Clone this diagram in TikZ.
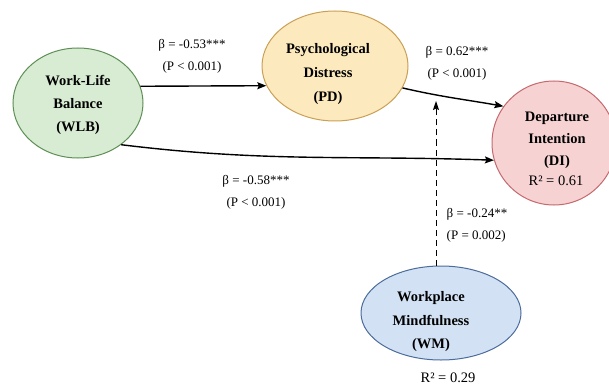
\documentclass[tikz,border=0pt]{standalone}
\usepackage{fontspec}
\setmainfont{Liberation Serif}
\usetikzlibrary{shapes.geometric,arrows.meta}
\definecolor{wlbfill}{HTML}{D8EBD3}
\definecolor{wlbdraw}{HTML}{5E8F55}
\definecolor{pdfill}{HTML}{FCE9BE}
\definecolor{pddraw}{HTML}{C9A055}
\definecolor{difill}{HTML}{F7D2D3}
\definecolor{didraw}{HTML}{C46A6E}
\definecolor{wmfill}{HTML}{D2E2F4}
\definecolor{wmdraw}{HTML}{4C6C9C}
\tikzset{
  latent/.style={ellipse, draw, line width=1pt, inner sep=0pt},
  nodetext/.style={align=center, inner sep=0pt, font=\fontsize{14.5}{23}\selectfont\bfseries},
  rtext/.style={inner sep=0pt, font=\fontsize{14.5}{17}\selectfont},
  coef/.style={align=center, inner sep=0pt, font=\fontsize{13}{22}\selectfont},
  conn/.style={line width=1.4pt, -{Stealth[length=9pt,width=7pt,inset=1.5pt]}},
  modconn/.style={line width=1pt, dash pattern=on 6pt off 4pt, -{Stealth[length=9pt,width=6pt,inset=1.5pt]}}
}
\begin{document}
\begin{tikzpicture}[x=1pt,y=-1pt]
\useasboundingbox (0,0) rectangle (609,390);
\begin{scope}
\clip (0,0) rectangle (609,390);
\node[latent, fill=wlbfill, draw=wlbdraw, minimum width=130pt, minimum height=110pt] (wlb) at (78,103) {};
\node[latent, fill=pdfill, draw=pddraw, minimum width=146pt, minimum height=110pt] (pd) at (335,66) {};
\node[latent, fill=difill, draw=didraw, minimum width=124pt, minimum height=124pt] (di) at (554,143) {};
\node[latent, fill=wmfill, draw=wmdraw, minimum width=160pt, minimum height=94pt] (wm) at (441,313) {};
\end{scope}

\node[nodetext] (wlbt) at (78,105) {Work-Life\\Balance\\(WLB)};
\node[nodetext, font=\fontsize{14.5}{24}\selectfont\bfseries] (pdt) at (328,74) {Psychological\\Distress\\(PD)};
\node[nodetext, font=\fontsize{14.5}{22}\selectfont\bfseries] (dit) at (557,140) {Departure\\Intention\\(DI)};
\node[rtext] (dir) at (556,181) {R² = 0.61};
\node[nodetext, font=\fontsize{14.5}{23.5}\selectfont\bfseries] (wmt) at (431,322) {Workplace\\Mindfulness\\(WM)};
\node[rtext] (wmr) at (448,378) {R² = 0.29};

\draw[conn] (wlb.15.4) -- (pd.196.4);
\draw[conn] (pd.-18) to[out=-13, in=170] (di.144);
\draw[conn] (wlb.-44) to[out=-7, in=178] (di.196);
\coordinate (dtip) at (436,101);
\draw[modconn] (wm.north -| dtip) -- (dtip);

\node[coef] (c1) at (192,56.5) {β = -0.53***\\(P < 0.001)};
\node[coef] (c2) at (457,63.5) {β = 0.62***\\(P < 0.001)};
\node[coef] (c3) at (256,192.5) {β = -0.58***\\(P < 0.001)};
\node[coef, align=left] (c4) at (477,225) {β = -0.24**\\(P = 0.002)};
\end{tikzpicture}
\end{document}
